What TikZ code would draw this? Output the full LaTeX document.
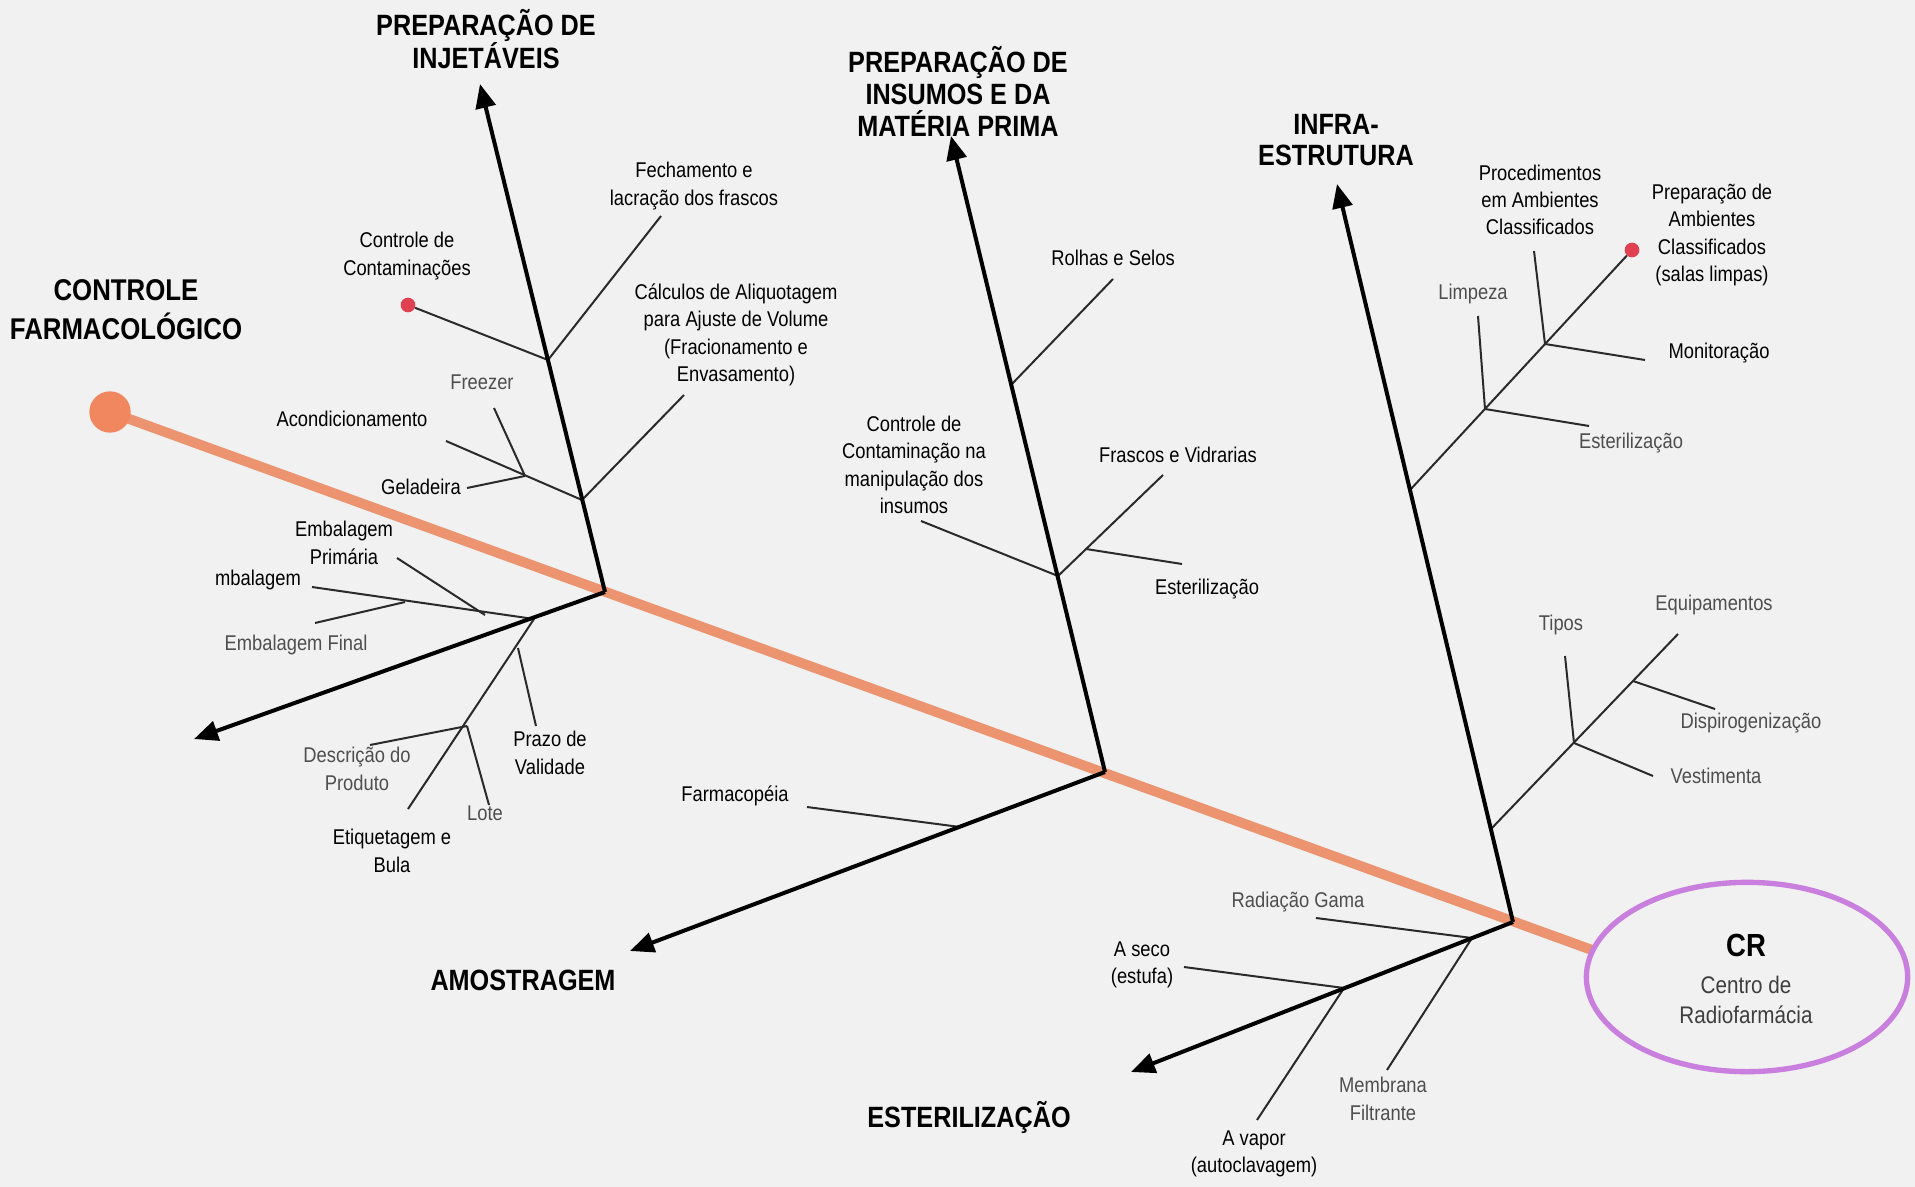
\documentclass[tikz,border=0pt]{standalone}
\usepackage{fontspec}
\setmainfont[FakeStretch=0.86]{Liberation Sans}
\usetikzlibrary{arrows.meta,shapes.geometric}
\definecolor{bgc}{HTML}{F1F1F1}
\definecolor{spinec}{HTML}{EC9470}
\definecolor{headc}{HTML}{F0875E}
\definecolor{dotc}{HTML}{E0404F}
\definecolor{crc}{HTML}{C97FDD}
\definecolor{twigc}{HTML}{2A2A2A}
\definecolor{txtgray}{HTML}{4E4E4E}
\tikzset{
  lbl/.style={font=\fontsize{16}{20.5}\selectfont, align=center, inner sep=0pt, text=black},
  glbl/.style={lbl, text=txtgray},
  ttl/.style={font=\bfseries\fontsize{22}{23}\selectfont, align=center, inner sep=0pt},
  bone/.style={line width=3pt, black, -{Triangle[length=18pt,width=15pt]}},
  twig/.style={line width=1.5pt, twigc},
  dotnode/.style={circle, fill=dotc, inner sep=0pt, minimum size=11pt}
}
\begin{document}
\begin{tikzpicture}[x=0.75pt,y=-0.75pt]
\fill[bgc] (0,0) rectangle (1915,1187);
\useasboundingbox (0,0) rectangle (1915,1187);

% spine
\coordinate (O) at (110,412);
\coordinate (spineEnd) at (1592,950);
\draw[spinec, line width=7.5pt] (O) -- (spineEnd);
\node[circle, fill=headc, minimum size=31pt, inner sep=0pt] (head) at (O) {};
\node[ellipse, draw=crc, line width=4pt, minimum width=241pt, minimum height=142pt, inner sep=0pt] (CR) at (1747,977) {};
\node[font=\bfseries\fontsize{24}{26}\selectfont, inner sep=0pt] (crt) at (1746,945) {CR};
\node[lbl, font=\fontsize{18}{22.5}\selectfont, text=txtgray!80!black] (crs) at (1746,1000) {Centro de\\Radiofarmácia};

% joints on spine
\coordinate (J1) at (605,592);
\coordinate (J2) at (1105,772);
\coordinate (J3) at (1513,922);
% bone tips
\coordinate (T1u) at (480,84);
\coordinate (T1d) at (194,739);
\coordinate (T2u) at (951,136);
\coordinate (T2d) at (630,951);
\coordinate (T3u) at (1337,184);
\coordinate (T3d) at (1131,1072);

% ---------- Injetaveis ----------
\coordinate (a1) at (548,360);
\coordinate (a2) at (582,500);
\coordinate (a3) at (525,476);
\coordinate (a4) at (446,441);
\coordinate (a5) at (494,408);
\coordinate (a6) at (467,488);
\coordinate (a7) at (661,216);
\coordinate (a8) at (684,395);
\node[dotnode] (dot1) at (408,305) {};
\draw[twig] (dot1) -- (a1);
\draw[twig] (a1) -- (a7);
\draw[twig] (a2) -- (a8);
\draw[twig] (a4) -- (a2);
\draw[twig] (a5) -- (a3);
\draw[twig] (a6) -- (a3);
\draw[bone] (J1) -- (T1u);

\node[ttl] (tInj) at (486,39) {PREPARAÇÃO DE\\INJETÁVEIS};
\node[lbl] (lCC) at (407,256) {Controle de\\Contaminações};
\node[lbl] (lFe) at (694,186) {Fechamento e\\lacração dos frascos};
\node[lbl] (lCa) at (736,335) {Cálculos de Aliquotagem\\para Ajuste de Volume\\(Fracionamento e\\Envasamento)};
\node[lbl] (lAc) at (352,419) {Acondicionamento};
\node[glbl] (lFr) at (482,382) {Freezer};
\node[lbl] (lGe) at (421,487) {Geladeira};

% ---------- Controle farmacologico ----------
\coordinate (KB) at (534,619);
\coordinate (b1) at (312,587);
\coordinate (b2) at (405,602);
\coordinate (b3) at (315,623);
\coordinate (b4) at (485,615);
\coordinate (b5) at (397,558);
\coordinate (b6) at (408,809);
\coordinate (b7) at (518,648);
\coordinate (b8) at (536,726);
\coordinate (b9) at (467,726);
\coordinate (b10) at (370,745);
\coordinate (b11) at (489,805);
\draw[twig] (KB) -- (b1);
\draw[twig] (b2) -- (b3);
\draw[twig] (b4) -- (b5);
\draw[twig] (KB) -- (b6);
\draw[twig] (b7) -- (b8);
\draw[twig] (b9) -- (b10);
\draw[twig] (b9) -- (b11);
\draw[bone] (J1) -- (T1d);

\node[ttl, font=\bfseries\fontsize{22.5}{29}\selectfont] (tCF) at (126,310) {CONTROLE\\FARMACOLÓGICO};
\node[lbl] (lEP) at (344,543) {Embalagem\\Primária};
\node[lbl] (lEm) at (258,580) {mbalagem};
\node[glbl] (lEF) at (296,645) {Embalagem Final};
\node[lbl] (lPV) at (550,753) {Prazo de\\Validade};
\node[glbl] (lDP) at (357,769) {Descrição do\\Produto};
\node[glbl] (lLo) at (485,813) {Lote};
\node[lbl] (lEB) at (392,851) {Etiquetagem e\\Bula};

% ---------- Insumos ----------
\coordinate (c1) at (1011,385);
\coordinate (c2) at (1113,279);
\coordinate (c3) at (921,521);
\coordinate (c4) at (1058,576);
\coordinate (c5) at (1163,475);
\coordinate (c6) at (1086,549);
\coordinate (c7) at (1182,564);
\draw[twig] (c1) -- (c2);
\draw[twig] (c3) -- (c4);
\draw[twig] (c4) -- (c5);
\draw[twig] (c6) -- (c7);
\draw[bone] (J2) -- (T2u);

\node[ttl, font=\bfseries\fontsize{22}{24}\selectfont] (tIns) at (958,91) {PREPARAÇÃO DE\\INSUMOS E DA\\MATÉRIA PRIMA};
\node[lbl] (lRS) at (1113,258) {Rolhas e Selos};
\node[lbl] (lCM) at (914,465) {Controle de\\Contaminação na\\manipulação dos\\insumos};
\node[lbl] (lFV) at (1178,455) {Frascos e Vidrarias};
\node[lbl] (lE1) at (1207,589) {Esterilização};

% ---------- Amostragem ----------
\coordinate (d1) at (807,807);
\coordinate (d2) at (960,827);
\draw[twig] (d1) -- (d2);
\draw[bone] (J2) -- (T2d);
\node[ttl] (tAm) at (523,980) {AMOSTRAGEM};
\node[lbl] (lFa) at (735,796) {Farmacopéia};

% ---------- Infra-estrutura ----------
\coordinate (e1) at (1491,829);
\coordinate (e2) at (1678,634);
\coordinate (e3) at (1565,656);
\coordinate (e4) at (1574,743);
\coordinate (e5) at (1633,681);
\coordinate (e6) at (1715,709);
\coordinate (e7) at (1653,776);
\coordinate (f1) at (1410,490);
\coordinate (f3) at (1478,316);
\coordinate (f4) at (1485,409);
\coordinate (f5) at (1589,426);
\coordinate (f6) at (1534,251);
\coordinate (f7) at (1545,344);
\coordinate (f8) at (1645,360);
\node[dotnode] (dot2) at (1632,250) {};
\draw[twig] (e1) -- (e2);
\draw[twig] (e3) -- (e4);
\draw[twig] (e5) -- (e6);
\draw[twig] (e4) -- (e7);
\draw[twig] (f1) -- (dot2);
\draw[twig] (f3) -- (f4);
\draw[twig] (f4) -- (f5);
\draw[twig] (f6) -- (f7);
\draw[twig] (f7) -- (f8);
\draw[bone] (J3) -- (T3u);

\node[ttl] (tInf) at (1336,140) {INFRA-\\ESTRUTURA};
\node[glbl] (lTi) at (1561,625) {Tipos};
\node[glbl] (lEq) at (1714,605) {Equipamentos};
\node[glbl] (lDi) at (1751,723) {Dispirogenização};
\node[glbl] (lVe) at (1716,776) {Vestimenta};
\node[glbl] (lLi) at (1473,294) {Limpeza};
\node[glbl] (lE2) at (1631,443) {Esterilização};
\node[lbl] (lPr) at (1540,200) {Procedimentos\\em Ambientes\\Classificados};
\node[lbl] (lMo) at (1719,353) {Monitoração};
\node[lbl] (lPA) at (1712,235) {Preparação de\\Ambientes\\Classificados\\(salas limpas)};

% ---------- Esterilizacao ----------
\coordinate (g1) at (1316,918);
\coordinate (g2) at (1472,938);
\coordinate (g3) at (1387,1070);
\coordinate (g4) at (1184,967);
\coordinate (g5) at (1344,988);
\coordinate (g6) at (1257,1120);
\draw[twig] (g1) -- (g2);
\draw[twig] (g2) -- (g3);
\draw[twig] (g4) -- (g5);
\draw[twig] (g5) -- (g6);
\draw[bone] (J3) -- (T3d);

\node[ttl] (tEs) at (969,1117) {ESTERILIZAÇÃO};
\node[glbl] (lRG) at (1298,902) {Radiação Gama};
\node[glbl] (lMF) at (1383,1099) {Membrana\\Filtrante};
\node[lbl] (lAS) at (1142,965) {A seco\\(estufa)};
\node[lbl] (lAV) at (1254,1154) {A vapor\\(autoclavagem)};
\end{tikzpicture}
\end{document}
